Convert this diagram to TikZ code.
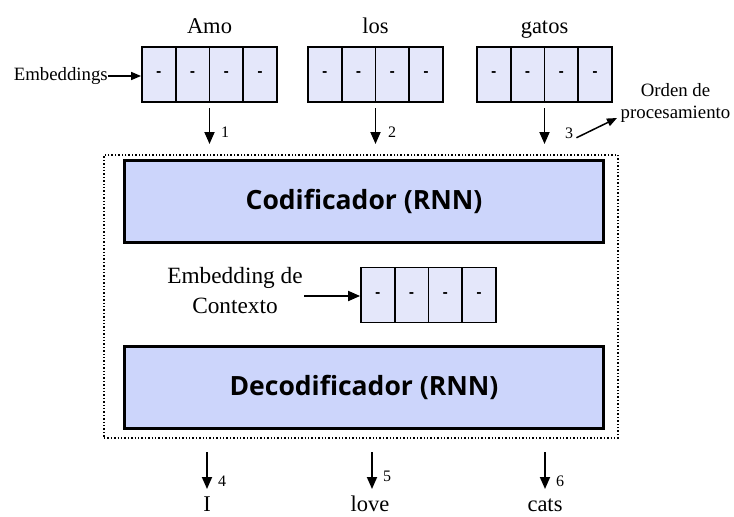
\documentclass[tikz,border=0pt]{standalone}
\usepackage{fontspec}
\setmainfont{Liberation Serif}
\newfontfamily\boxfont{Open Sans}
\usetikzlibrary{arrows.meta}

\definecolor{cellfill}{HTML}{E4E7FA}
\definecolor{rnnfill}{HTML}{CCD5FB}

\tikzset{
  cell/.style={draw, line width=1.8pt, fill=cellfill, minimum width=33.75pt,
    minimum height=55pt, inner sep=0pt, font=\boxfont\bfseries\fontsize{15}{15}\selectfont},
  rnnbox/.style={draw, line width=3pt, fill=rnnfill, minimum width=479pt,
    minimum height=82pt, inner sep=0pt, font=\boxfont\bfseries\fontsize{26.5}{26.5}\selectfont},
  flow/.style={-{Triangle[length=12pt,width=10pt]}, line width=1.8pt},
  thinflow/.style={-{Triangle[length=10pt,width=8pt]}, line width=1.5pt},
  word/.style={anchor=base, inner sep=0pt, font=\fontsize{22.5}{22.5}\selectfont},
  note/.style={inner sep=0pt, font=\fontsize{18.8}{22}\selectfont, align=center},
  ordnum/.style={anchor=base west, inner sep=0pt, font=\fontsize{16}{16}\selectfont},
}

% four-cell embedding vector: name, left x, centre y
\newcommand\embvec[3]{%
  \foreach \i in {1,...,4}
    \node[cell] (#1-\i) at ({#2+(\i-0.5)*33.75}, #3) {-};
}

\begin{document}
\begin{tikzpicture}[x=1pt, y=-1pt]
  \useasboundingbox (0,0) rectangle (734,517);

  % input words and their embeddings
  \node[word] (w1) at (209.5,33) {Amo};
  \node[word] (w2) at (375.5,33) {los};
  \node[word] (w3) at (544.5,33) {gatos};
  \embvec{v1}{142}{74.5}
  \embvec{v2}{308}{74.5}
  \embvec{v3}{477}{74.5}

  \node[note, anchor=base east] (embl) at (108,80) {Embeddings};
  \draw[thinflow] (embl.east |- 0,76) -- (v1-1.west |- 0,76);

  % processing order of the inputs
  \coordinate (i1s) at (209.5,108);  \coordinate (i1e) at (209.5,144);
  \coordinate (i2s) at (375.5,108);  \coordinate (i2e) at (375.5,144);
  \coordinate (i3s) at (544.5,108);  \coordinate (i3e) at (544.5,144);
  \draw[flow] (i1s) -- (i1e);
  \draw[flow] (i2s) -- (i2e);
  \draw[flow] (i3s) -- (i3e);
  \node[ordnum] (n1) at (221,137) {1};
  \node[ordnum] (n2) at (388,137) {2};
  \node[ordnum] (n3) at (565,138) {3};

  \node[note] (orden) at (675.5,103) {Orden de\\procesamiento};
  \coordinate (ordtip) at (617,118);
  \draw[thinflow] ([xshift=3pt,yshift=-5pt]n3.east) -- (ordtip);

  % encoder-decoder block
  \node[draw, dotted, line width=1.4pt, minimum width=514pt, minimum height=283pt,
        inner sep=0pt] (frame) at (361,296.5) {};
  \node[rnnbox] (enc) at (364,201) {Codificador (RNN)};
  \node[rnnbox] (dec) at (364,387) {Decodificador (RNN)};

  % context embedding
  \embvec{ctx}{361}{295}
  \node[note, font=\fontsize{23.3}{30}\selectfont] (ctxl) at (235,291) {Embedding de\\Contexto};
  \coordinate (ctxa) at (304,296);
  \draw[flow] (ctxa) -- (ctx-1.west |- ctxa);

  % outputs
  \coordinate (o1s) at (207,452);  \coordinate (o1e) at (207,489);
  \coordinate (o2s) at (372,452);  \coordinate (o2e) at (372,489);
  \coordinate (o3s) at (545,452);  \coordinate (o3e) at (545,489);
  \draw[flow] (o1s) -- (o1e);
  \draw[flow] (o2s) -- (o2e);
  \draw[flow] (o3s) -- (o3e);
  \node[ordnum] (n4) at (218,486) {4};
  \node[ordnum] (n5) at (383,481) {5};
  \node[ordnum] (n6) at (556,486) {6};
  \node[word] (y1) at (207,511) {I};
  \node[word] (y2) at (370,511) {love};
  \node[word] (y3) at (545,511) {cats};
\end{tikzpicture}
\end{document}
